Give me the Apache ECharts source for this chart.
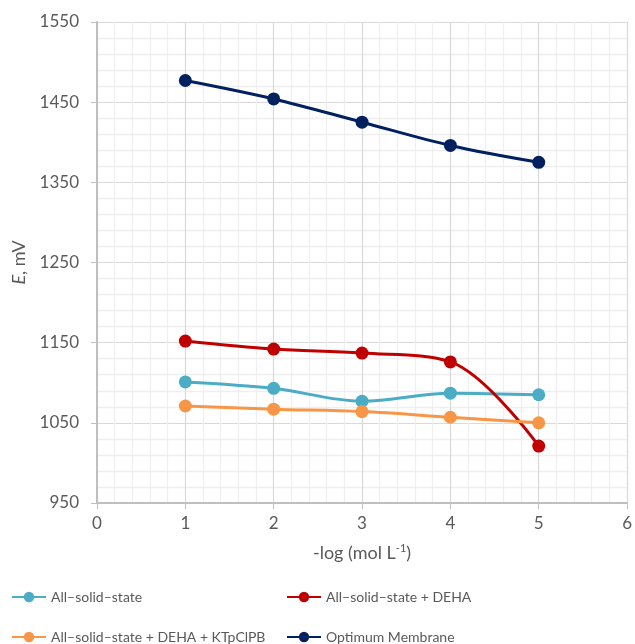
<!DOCTYPE html>
<html>
<head>
<meta charset="utf-8">
<script src="https://cdn.jsdelivr.net/npm/echarts@6/dist/echarts.min.js"></script>
<style>
  html, body { margin: 0; padding: 0; background: #fff; }
  #chart { width: 635px; height: 644px; }
</style>
</head>
<body>
<div id="chart"></div>
<script>
// Concentration steps, -log (mol L^-1)
const concentrations = [1, 2, 3, 4, 5];

// Potential readings, mV
const allSolidState = [1101, 1093, 1077, 1087, 1085];
const withDEHA = [1152, 1142, 1137, 1126, 1021];
const withDEHAandKTpClPB = [1071, 1067, 1064, 1057, 1050];
const optimumMembrane = [1477, 1454, 1425, 1396, 1375];

const seriesNames = [
  'All\u2013solid\u2013state',
  'All\u2013solid\u2013state + DEHA',
  'All\u2013solid\u2013state + DEHA + KTpClPB',
  'Optimum Membrane'
];
const seriesValues = [allSolidState, withDEHA, withDEHAandKTpClPB, optimumMembrane];
const seriesColors = ['#4bacc6', '#c00000', '#f79646', '#002060'];

const FONT = 'Lato';
const LABEL_COLOR = '#595959';

const pairs = vals => concentrations.map((c, i) => [c, vals[i]]);

const series = seriesNames.map((name, i) => ({
  name,
  type: 'line',
  data: pairs(seriesValues[i]),
  smooth: 0.35,
  symbol: 'circle',
  symbolSize: 13,
  lineStyle: { width: 3, color: seriesColors[i] },
  itemStyle: { color: seriesColors[i] },
  z: 3
}));

// Two-column legend laid out as four single-entry legends
const legendPos = [
  { left: 11, top: 590 },
  { left: 286, top: 590 },
  { left: 11, top: 630 },
  { left: 286, top: 630 }
];
const legends = seriesNames.map((name, i) => ({
  data: [name],
  left: legendPos[i].left,
  top: legendPos[i].top,
  itemWidth: 34,
  itemHeight: 13,
  itemGap: 4,
  padding: 0,
  textStyle: { fontFamily: FONT, fontSize: 14, color: LABEL_COLOR },
  selectedMode: false
}));

const chart = echarts.init(document.getElementById('chart'), null, { renderer: 'canvas' });
chart.setOption({
  animation: false,
  backgroundColor: '#ffffff',
  textStyle: { fontFamily: FONT },
  legend: legends,
  grid: { left: 97, right: 5, top: 22, bottom: 141, containLabel: false },
  xAxis: {
    type: 'value',
    min: 0,
    max: 6,
    interval: 1,
    name: '-log (mol L{sup|-1})',
    nameLocation: 'middle',
    nameGap: 40,
    nameTextStyle: {
      fontFamily: FONT, fontSize: 18, color: LABEL_COLOR,
      rich: { sup: { fontFamily: FONT, fontSize: 11, color: LABEL_COLOR, verticalAlign: 'top', padding: [0, 0, 9, 0] } }
    },
    axisLine: { lineStyle: { color: '#bfbfbf', width: 2 } },
    axisTick: { show: true, inside: false, length: 6, lineStyle: { color: '#bfbfbf' } },
    axisLabel: { fontFamily: FONT, fontSize: 17, color: LABEL_COLOR, margin: 12 },
    splitLine: { show: true, lineStyle: { color: '#d9d9d9', width: 1.2 } },
    minorTick: { show: false, splitNumber: 5 },
    minorSplitLine: { show: true, lineStyle: { color: '#efefef', width: 1.3 } }
  },
  yAxis: {
    type: 'value',
    min: 950,
    max: 1550,
    interval: 100,
    name: '{i|E}, mV',
    nameLocation: 'middle',
    nameGap: 52,
    nameTextStyle: {
      fontFamily: FONT, fontSize: 18, color: LABEL_COLOR,
      rich: { i: { fontFamily: FONT, fontSize: 18, fontStyle: 'italic', color: LABEL_COLOR } }
    },
    axisLine: { show: true, lineStyle: { color: '#bfbfbf', width: 2 } },
    axisTick: { show: true, inside: false, length: 6, lineStyle: { color: '#bfbfbf' } },
    axisLabel: { fontFamily: FONT, fontSize: 17, color: LABEL_COLOR, margin: 18, formatter: v => String(v) },
    splitLine: { show: true, lineStyle: { color: '#d9d9d9', width: 1.2 } },
    minorTick: { show: false, splitNumber: 5 },
    minorSplitLine: { show: true, lineStyle: { color: '#efefef', width: 1.3 } }
  },
  series
});
</script>
</body>
</html>
